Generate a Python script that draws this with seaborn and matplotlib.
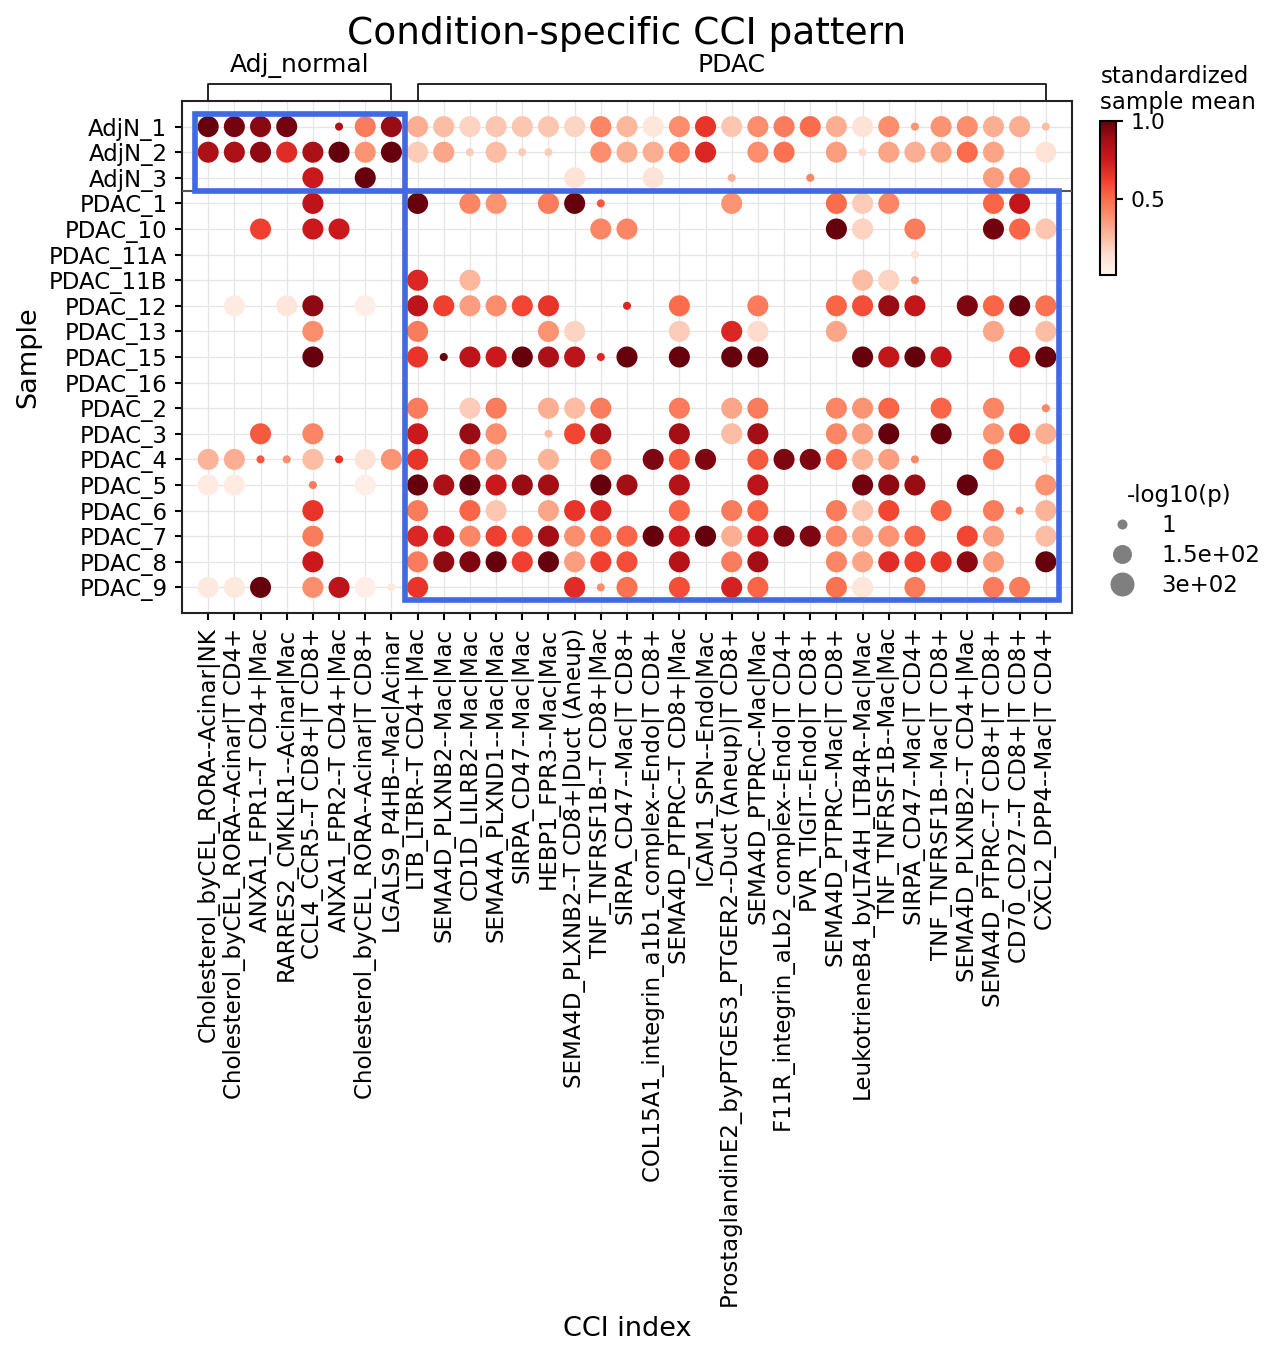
import numpy as np
import pandas as pd
import matplotlib
matplotlib.use("Agg")
import matplotlib.pyplot as plt
import seaborn as sns
from matplotlib.patches import Rectangle
from matplotlib.lines import Line2D
import matplotlib.colors as mcolors
import matplotlib.cm as cm
import matplotlib.transforms as mtransforms

_ = np.nan

samples = ["AdjN_1", "AdjN_2", "AdjN_3", "PDAC_1", "PDAC_10", "PDAC_11A", "PDAC_11B",
           "PDAC_12", "PDAC_13", "PDAC_15", "PDAC_16", "PDAC_2", "PDAC_3", "PDAC_4",
           "PDAC_5", "PDAC_6", "PDAC_7", "PDAC_8", "PDAC_9"]

cci_index = [
    "Cholesterol_byCEL_RORA--Acinar|NK",
    "Cholesterol_byCEL_RORA--Acinar|T CD4+",
    "ANXA1_FPR1--T CD4+|Mac",
    "RARRES2_CMKLR1--Acinar|Mac",
    "CCL4_CCR5--T CD8+|T CD8+",
    "ANXA1_FPR2--T CD4+|Mac",
    "Cholesterol_byCEL_RORA--Acinar|T CD8+",
    "LGALS9_P4HB--Mac|Acinar",
    "LTB_LTBR--T CD4+|Mac",
    "SEMA4D_PLXNB2--Mac|Mac",
    "CD1D_LILRB2--Mac|Mac",
    "SEMA4A_PLXND1--Mac|Mac",
    "SIRPA_CD47--Mac|Mac",
    "HEBP1_FPR3--Mac|Mac",
    "SEMA4D_PLXNB2--T CD8+|Duct (Aneup)",
    "TNF_TNFRSF1B--T CD8+|Mac",
    "SIRPA_CD47--Mac|T CD8+",
    "COL15A1_integrin_a1b1_complex--Endo|T CD8+",
    "SEMA4D_PTPRC--T CD8+|Mac",
    "ICAM1_SPN--Endo|Mac",
    "ProstaglandinE2_byPTGES3_PTGER2--Duct (Aneup)|T CD8+",
    "SEMA4D_PTPRC--Mac|Mac",
    "F11R_integrin_aLb2_complex--Endo|T CD4+",
    "PVR_TIGIT--Endo|T CD8+",
    "SEMA4D_PTPRC--Mac|T CD8+",
    "LeukotrieneB4_byLTA4H_LTB4R--Mac|Mac",
    "TNF_TNFRSF1B--Mac|Mac",
    "SIRPA_CD47--Mac|T CD4+",
    "TNF_TNFRSF1B--Mac|T CD8+",
    "SEMA4D_PLXNB2--T CD4+|Mac",
    "SEMA4D_PTPRC--T CD8+|T CD8+",
    "CD70_CD27--T CD8+|T CD8+",
    "CXCL2_DPP4--Mac|T CD4+",
]

conditions = ["Adj_normal", "PDAC"]
condition_n_cci = [8, 25]
condition_n_samples = [3, 16]

# standardized sample mean (rows = samples, columns = CCI index)
std_mean = [
    [1.0, .97, .93, .97, _, .85, .45, .90, .30, .25, .18, .22, .22, .22, .17, .42, .27, .10, .40, .65, .22, .40, .45, .50, .30, .12, .40, .38, .38, .40, .30, .30, .25],
    [.85, .85, .92, .68, .85, 1.0, .38, 1.0, .20, .32, .20, .25, .20, .20, _, .40, .30, .30, .42, .70, _, .40, .48, _, .35, .15, .33, .30, .33, .50, .33, _, .12],
    [_, _, _, _, .75, _, 1.0, _, _, _, _, _, _, _, .12, _, _, .12, _, _, .30, _, _, .42, _, _, _, _, _, _, .35, .40, _],
    [_, _, _, _, .80, _, _, _, 1.0, _, .42, .38, _, .45, 1.0, .55, _, _, _, _, .38, _, _, _, .50, .20, .42, _, _, _, .52, .78, _],
    [_, _, .62, _, .75, .75, _, _, _, _, _, _, _, _, _, .42, .42, _, _, _, _, _, _, _, 1.0, .18, _, .45, _, _, .98, .52, .22],
    [_, _, _, _, _, _, _, _, _, _, _, _, _, _, _, _, _, _, _, _, _, _, _, _, _, _, _, .12, _, _, _, _, _],
    [_, _, _, _, _, _, _, _, .70, _, .27, _, _, _, _, _, _, _, _, _, _, _, _, _, _, .25, .18, .35, _, _, _, _, _],
    [_, .07, _, .10, .92, _, .05, _, .80, .62, .35, .40, .60, .65, _, _, .70, _, .50, _, _, .45, _, _, .52, .58, .90, .78, _, .95, .52, 1.0, .48],
    [_, _, _, _, .40, _, _, _, .45, _, _, _, _, .38, .18, _, _, _, .20, _, .70, .15, _, _, .32, _, _, _, _, _, .32, _, .25],
    [_, _, _, _, 1.0, _, _, _, .65, 1.0, .80, .75, 1.0, .85, .80, .70, 1.0, _, 1.0, _, 1.0, 1.0, _, _, _, 1.0, .78, 1.0, .78, _, _, .62, 1.0],
    [_, _, _, _, _, _, _, _, _, _, _, _, _, _, _, _, _, _, _, _, _, _, _, _, _, _, _, _, _, _, _, _, _],
    [_, _, _, _, _, _, _, _, .45, _, .20, .45, _, .30, .25, .45, _, _, .45, _, .32, .45, _, _, .42, .38, .52, _, .52, _, .42, _, .42],
    [_, _, .55, _, .42, _, _, _, .75, _, .90, .40, _, .25, .60, .85, _, _, .88, _, .25, .88, _, _, .42, .35, 1.0, _, 1.0, _, .38, .55, .30],
    [.28, .30, .55, .40, .25, .65, .12, .38, .65, _, .42, .32, _, .28, _, .42, _, .95, .55, .95, _, .55, .95, .95, .52, .28, .35, .42, _, _, .48, _, .10],
    [.07, .07, _, _, .45, _, .05, _, 1.0, .85, 1.0, .75, .90, .88, _, 1.0, .88, _, .82, _, _, .80, _, _, _, .98, .92, .90, _, 1.0, _, _, .38],
    [_, _, _, _, .65, _, _, _, .45, _, .52, .22, _, .32, .65, .70, _, _, .52, _, .45, .52, _, _, .45, .22, .60, _, .52, _, .45, .42, .28],
    [_, _, _, _, .45, _, _, _, .70, .78, .42, .62, .52, .88, .40, .50, .52, 1.0, .75, 1.0, .30, .75, .95, .95, .42, .32, .38, .52, _, .60, .35, _, .25],
    [_, _, _, _, .75, _, _, _, .45, .92, .95, 1.0, .62, 1.0, .35, .62, .58, _, .82, _, .45, .88, _, _, .42, .33, .68, .62, .65, .92, .36, _, 1.0],
    [.08, .08, 1.0, _, .40, .80, .05, .08, .65, _, _, _, _, _, .68, .40, .48, _, .58, _, .72, .52, _, _, .48, .10, _, .45, _, _, .45, .45, _],
]

# -log10(p)
neglog10_p = [
    [290, 290, 290, 290, _, 1, 290, 290, 290, 290, 290, 290, 290, 290, 290, 290, 290, 290, 290, 290, 290, 290, 290, 290, 290, 290, 290, 1, 290, 290, 290, 290, 1],
    [290, 290, 290, 290, 290, 290, 290, 290, 290, 290, 1, 290, 1, 1, _, 290, 290, 290, 290, 290, _, 290, 290, _, 290, 1, 290, 290, 290, 290, 290, _, 290],
    [_, _, _, _, 290, _, 290, _, _, _, _, _, _, _, 290, _, _, 290, _, _, 1, _, _, 1, _, _, _, _, _, _, 290, 290, _],
    [_, _, _, _, 290, _, _, _, 290, _, 290, 290, _, 290, 290, 1, _, _, _, _, 290, _, _, _, 290, 290, 290, _, _, _, 290, 290, _],
    [_, _, 290, _, 290, 290, _, _, _, _, _, _, _, _, _, 290, 290, _, _, _, _, _, _, _, 290, 290, _, 290, _, _, 290, 290, 290],
    [_, _, _, _, _, _, _, _, _, _, _, _, _, _, _, _, _, _, _, _, _, _, _, _, _, _, _, 1, _, _, _, _, _],
    [_, _, _, _, _, _, _, _, 290, _, 290, _, _, _, _, _, _, _, _, _, _, _, _, _, _, 290, 290, 1, _, _, _, _, _],
    [_, 290, _, 290, 290, _, 290, _, 290, 290, 290, 290, 290, 290, _, _, 1, _, 290, _, _, 290, _, _, 290, 290, 290, 290, _, 290, 290, 290, 290],
    [_, _, _, _, 290, _, _, _, 290, _, _, _, _, 290, 290, _, _, _, 290, _, 290, 290, _, _, 290, _, _, _, _, _, 290, _, 290],
    [_, _, _, _, 290, _, _, _, 290, 1, 290, 290, 290, 290, 290, 1, 290, _, 290, _, 290, 290, _, _, _, 290, 290, 290, 290, _, _, 290, 290],
    [_, _, _, _, _, _, _, _, _, _, _, _, _, _, _, _, _, _, _, _, _, _, _, _, _, _, _, _, _, _, _, _, _],
    [_, _, _, _, _, _, _, _, 290, _, 290, 290, _, 290, 290, 290, _, _, 290, _, 290, 290, _, _, 290, 290, 290, _, 290, _, 290, _, 1],
    [_, _, 290, _, 290, _, _, _, 290, _, 290, 290, _, 1, 290, 290, _, _, 290, _, 290, 290, _, _, 290, 290, 290, _, 290, _, 290, 290, 290],
    [290, 290, 1, 1, 290, 1, 290, 290, 290, _, 290, 290, _, 290, _, 290, _, 290, 290, 290, _, 290, 290, 290, 290, 290, 290, 1, _, _, 290, _, 1],
    [290, 290, _, _, 1, _, 290, _, 290, 290, 290, 290, 290, 290, _, 290, 290, _, 290, _, _, 290, _, _, _, 290, 290, 290, _, 290, _, _, 290],
    [_, _, _, _, 290, _, _, _, 290, _, 290, 290, _, 290, 290, 290, _, _, 290, _, 290, 290, _, _, 290, 290, 290, _, 290, _, 290, 1, 290],
    [_, _, _, _, 290, _, _, _, 290, 290, 290, 290, 290, 290, 290, 290, 290, 290, 290, 290, 290, 290, 290, 290, 290, 290, 290, 290, _, 290, 290, _, 290],
    [_, _, _, _, 290, _, _, _, 290, 290, 290, 290, 290, 290, 290, 290, 290, _, 290, _, 290, 290, _, _, 290, 290, 290, 290, 290, 290, 290, _, 290],
    [290, 290, 290, _, 290, 290, 290, 1, 290, _, _, _, _, _, 290, 1, 290, _, 290, _, 290, 290, _, _, 290, 290, _, 290, _, _, 290, 290, _],
]

size_legend_values = [1, 150, 300]
size_legend_labels = ["1", "1.5e+02", "3e+02"]
colorbar_ticks = [0.5, 1.0]
VMIN, VMAX = 0.01, 1.0

# ---------------- build long table ----------------
rows = []
for i, s in enumerate(samples):
    for j, c in enumerate(cci_index):
        m = std_mean[i][j]
        p = neglog10_p[i][j]
        if not (np.isnan(m) or np.isnan(p)):
            rows.append({"sample": s, "cci": c, "yi": i, "xi": j, "mean": m, "neglogp": p})
df = pd.DataFrame(rows)

W, H, DPI = 1272, 1358, 150
fig = plt.figure(figsize=(W / DPI, H / DPI), dpi=DPI)
plt.rcParams["font.family"] = ["DejaVu Sans"]

L, R, T, B = 182, 1072, 101, 613
ax = fig.add_axes([L / W, 1 - B / H, (R - L) / W, (B - T) / H])

ax.grid(True, color="#e6e6e6", lw=0.6, zorder=0)
ax.set_axisbelow(True)

sns.scatterplot(data=df, x="xi", y="yi", hue="mean", size="neglogp",
                palette="Reds", hue_norm=(VMIN, VMAX),
                sizes=(15, 102), size_norm=(1, 290),
                linewidth=0, legend=False, ax=ax, zorder=3)

ax.set_xlim(-1, len(cci_index))
ax.set_ylim(len(samples), -1)
ax.set_xticks(range(len(cci_index)))
ax.set_xticklabels(cci_index, rotation=90, fontsize=11)
ax.set_yticks(range(len(samples)))
ax.set_yticklabels(samples, fontsize=11)
for sp in ax.spines.values():
    sp.set_linewidth(1.0)
    sp.set_color("#222222")
ax.tick_params(length=3.5, width=1.0)

ax.set_xlabel("CCI index", fontsize=13)
ax.set_ylabel("Sample", fontsize=13)
ax.xaxis.set_label_coords(0.5, (B - 1316) / (B - T))
ax.yaxis.set_label_coords((41 - L) / (R - L), 0.5)

# separator between conditions
n_adj = condition_n_samples[0]
ax.axhline(n_adj - 0.5, color="#555555", lw=1.0, zorder=4)

# highlight boxes
n_adj_cci = condition_n_cci[0]
ax.add_patch(Rectangle((-0.5, -0.5), n_adj_cci, n_adj, fill=False,
                       ec="royalblue", lw=2.7, zorder=5, clip_on=False))
ax.add_patch(Rectangle((n_adj_cci - 0.5, n_adj - 0.5), condition_n_cci[1], condition_n_samples[1],
                       fill=False, ec="royalblue", lw=2.7, zorder=5, clip_on=False))

# condition brackets on top
trans = mtransforms.blended_transform_factory(ax.transData, ax.transAxes)
ybr = 1 + (T - 84) / (B - T)
start = 0
for cond, n in zip(conditions, condition_n_cci):
    x0, x1 = start, start + n - 1
    ax.plot([x0, x0, x1, x1], [1.0, ybr, ybr, 1.0], color="black", lw=0.8,
            transform=trans, clip_on=False)
    ax.text((x0 + x1) / 2, 1 + (T - 72) / (B - T), cond, ha="center", va="baseline",
            fontsize=12, transform=trans)
    start += n

# title
fig.text(((L + R) / 2) / W, 1 - 44 / H, "Condition-specific CCI pattern",
         ha="center", va="baseline", fontsize=18)

# colorbar
cax = fig.add_axes([1099.5 / W, 1 - 275 / H, 16.5 / W, 154 / H])
sm = cm.ScalarMappable(norm=mcolors.Normalize(VMIN, VMAX), cmap="Reds")
cb = fig.colorbar(sm, cax=cax, ticks=colorbar_ticks)
cb.ax.tick_params(labelsize=10.5, length=3.5, width=1.0)
cb.outline.set_linewidth(1.0)
fig.text(1100.5 / W, 1 - 109 / H, "standardized\nsample mean", ha="left", va="baseline",
         fontsize=11, linespacing=1.15)

# size legend
legend_ms = [4.8, 9.1, 11.5]
handles = [Line2D([], [], marker="o", linestyle="", color="#7f7f7f", markeredgewidth=0,
                  markersize=ms) for ms in legend_ms]
fig.legend(handles, size_legend_labels, title="-log10(p)", loc="upper left",
           bbox_to_anchor=(1090 / W, 1 - 475 / H), frameon=False, fontsize=11,
           title_fontsize=11, labelspacing=0.3, handletextpad=0.7, borderaxespad=0)

fig.savefig("out.png", dpi=DPI)
